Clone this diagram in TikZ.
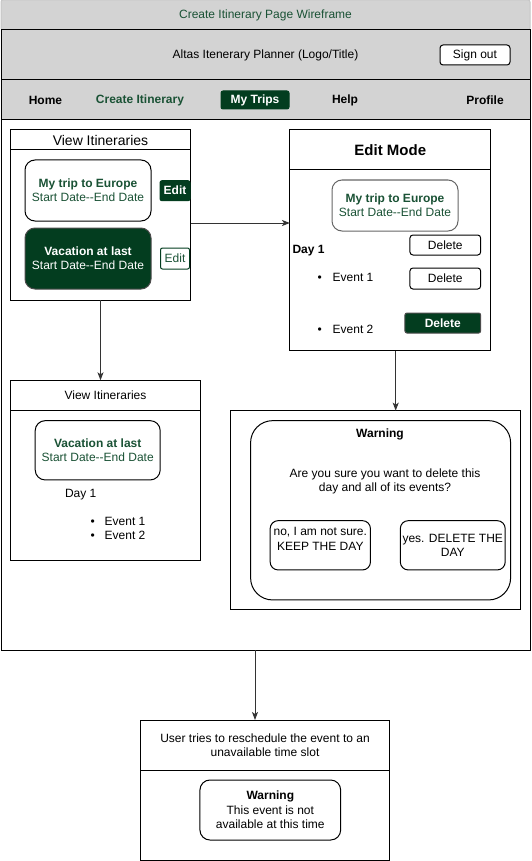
\documentclass[tikz,border=0pt]{standalone}
\usepackage{fontspec}
\setmainfont{Liberation Sans}
\usetikzlibrary{arrows.meta}
\definecolor{dg}{HTML}{033D1F}
\definecolor{tg}{HTML}{1A5235}
\definecolor{lg}{HTML}{D3D3D3}
\newcommand{\dd}{-\kern0pt-}
\begin{document}
\begin{tikzpicture}[x=1pt,y=-1pt,line width=1pt,
  font=\fontsize{12}{14.4}\selectfont,
  base/.style={inner sep=0pt,outer sep=0pt,align=center},
  wh/.style 2 args={base,minimum width=#1,minimum height=#2},
  txt/.style={base},
  bld/.style={base,font=\fontsize{12}{14.4}\selectfont\bfseries},
  card/.style={draw,rounded corners=10pt,fill=white,text=tg},
  btn/.style={draw,rounded corners=3pt,fill=white},
  dbtn/.style={draw=dg,fill=dg,rounded corners=2pt,text=white,font=\fontsize{12}{14.4}\selectfont\bfseries},
  arr/.style={draw=black!80,-{Stealth[length=8pt,width=6pt,inset=2pt]},line width=1pt}]
\useasboundingbox (0,0) rectangle (531,861);
% ---- outer frame ----
\node[wh={529}{30},draw=gray!45,fill=lg,rounded corners=2pt,text=tg] (title) at (265.5,15) {Create Itinerary Page Wireframe};
\node[wh={529}{50},draw,fill=lg] (hdr) at (265.5,55) {Altas Itenerary Planner (Logo/Title)};
\node[wh={529}{40},draw,fill=lg] (nav) at (265.5,100) {};
\node[wh={529}{530},draw,fill=white] (body) at (265.5,385) {};
\node[wh={70}{20},btn] (signout) at (475,55) {Sign out};
% nav items
\node[bld] (home) at (45.5,100) {Home};
\node[bld,text=tg] (create) at (140,100) {Create Itinerary};
\node[wh={68}{18},dbtn] (mytrips) at (255,100) {My Trips};
\node[bld] (help) at (345,100) {Help};
\node[bld] (profile) at (485,100) {Profile};
% ---- View Itineraries 1 ----
\node[wh={180}{170},draw,fill=white] (vi1) at (100.5,215) {};
\node[wh={180}{20},draw,anchor=north,font=\fontsize{14}{16}\selectfont] (vi1h) at (vi1.north) {View Itineraries};
\node[wh={126}{61},card] (c1) at (88,190.5) {\textbf{My trip to Europe}\\Start Date\dd End Date};
\node[wh={30}{20},dbtn] (edit1) at (175,190.7) {Edit};
\node[wh={126}{61},card,fill=dg,draw=black!70,text=white] (c2) at (88,258.5) {\textbf{Vacation at last}\\Start Date\dd End Date};
\node[wh={29}{21},btn,draw=dg,text=tg,rounded corners=2pt] (edit2) at (175,258.5) {Edit};
% ---- Edit Mode ----
\node[wh={200.7}{220.7},draw,fill=white] (em) at (390.3,240.3) {};
\node[wh={200.7}{40},draw,anchor=north,font=\fontsize{15}{18}\selectfont\bfseries] (emh) at (em.north) {Edit Mode};
\node[wh={126}{51},card,draw=black!60] (c3) at (395,205.5) {\textbf{My trip to Europe}\\Start Date\dd End Date};
\node[bld,anchor=west] (day1a) at (292.5,251) {Day 1};
\node[wh={70.7}{20},btn] (del1) at (445.3,245) {Delete};
\node[txt,anchor=west] (ev1a) at (317.5,277) {\textbullet\hspace{11pt}Event 1};
\node[wh={70.7}{21},btn] (del2) at (445.3,278.5) {Delete};
\node[txt,anchor=west] (ev2a) at (317.5,329) {\textbullet\hspace{11pt}Event 2};
\node[wh={75.7}{20},dbtn,draw=black!70] (del3) at (442.8,323) {Delete};
% ---- View Itineraries 2 ----
\node[wh={190}{180},draw,fill=white] (vi2) at (105.5,470.3) {};
\node[wh={190}{30.4},draw,anchor=north] (vi2h) at (vi2.north) {View Itineraries};
\node[wh={125}{59.3},card] (c4) at (97.7,450.3) {\textbf{Vacation at last}\\Start Date\dd End Date};
\node[txt,anchor=west] (day1b) at (65,495) {Day 1};
\node[txt,anchor=west,align=left] (evb) at (90.5,528.7) {\textbullet\hspace{10pt}Event 1\\\textbullet\hspace{10pt}Event 2};
% ---- Warning container ----
\node[wh={290.2}{199.3},draw,fill=white] (wc) at (375.4,510.3) {};
\node[wh={260}{179.3},draw,rounded corners=22pt] (wbox) at (380.6,510.3) {};
\node[bld] (wtitle) at (380,434.5) {Warning};
\node[txt] (wq) at (385,481.5) {Are you sure you want to delete this\\day and all of its events?};
\node[wh={100.3}{49.3},btn,rounded corners=8pt] (bno) at (320.3,545.3) {};
\node[txt] (bnot) at (320.3,538.7) {no, I am not sure.\\KEEP THE DAY};
\node[wh={104.9}{49.3},btn,rounded corners=8pt] (byes) at (452.75,545.3) {yes. DELETE THE\\DAY};
% ---- bottom box ----
\node[wh={249}{140},draw,fill=white] (bb) at (265,790) {};
\node[wh={249}{50},draw,anchor=north] (bbh) at (bb.north) {User tries to reschedule the event to an\\unavailable time slot};
\node[wh={140.7}{60},card,text=black] (c5) at (270.3,810) {\textbf{Warning}\\This event is not\\available at this time};
% ---- connectors ----
\coordinate (a1s) at ([yshift=-8pt]vi1.east);
\draw[arr] (a1s) -- (a1s -| em.west);
\draw[arr] (vi1.south) -- (vi1.south |- vi2.north);
\coordinate (a3s) at ([xshift=5.4pt]em.south);
\draw[arr] (a3s) -- (a3s |- wc.north);
\coordinate (a4s) at ([xshift=-10.5pt]body.south);
\draw[arr] (a4s) -- (a4s |- bb.north);
\end{tikzpicture}
\end{document}
